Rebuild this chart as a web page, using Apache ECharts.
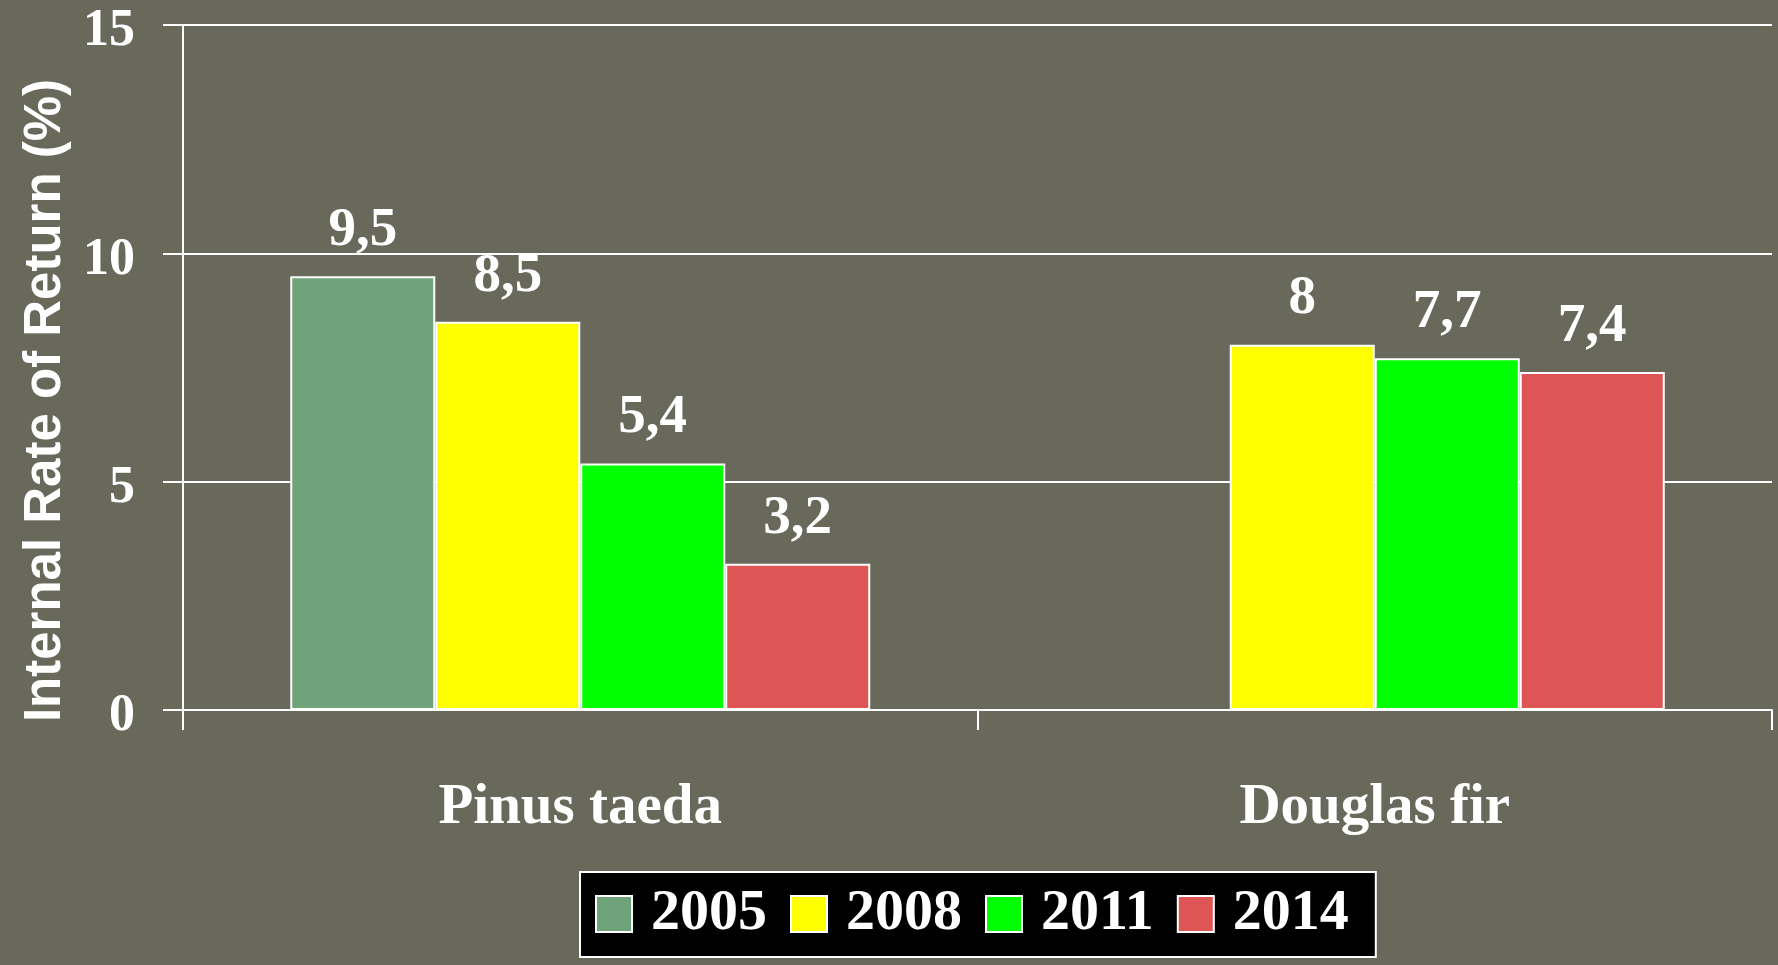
<!DOCTYPE html>
<html>
<head>
<meta charset="utf-8">
<script src="https://cdn.jsdelivr.net/npm/echarts@6/dist/echarts.min.js"></script>
<style>
  html, body { margin: 0; padding: 0; background: #68685a; }
  #main { width: 1778px; height: 965px; }
</style>
</head>
<body>
<div id="main"></div>
<script>
var chart = echarts.init(document.getElementById('main'));

// data
var categories = ['Pinus taeda', 'Douglas fir'];
var years = ['2005', '2008', '2011', '2014'];
var v2005 = [9.5, null];
var v2008 = [8.5, 8];
var v2011 = [5.4, 7.7];
var v2014 = [3.2, 7.4];
var yTicks = [0, 5, 10, 15];

var COLORS = ['#6fa37a', '#ffff00', '#00ff00', '#dd5555'];
var SERIF = '"Liberation Serif", "Times New Roman", serif';
var SANS = '"Liberation Sans", Arial, sans-serif';

function bar(name, vals, i) {
    return {
        name: name,
        type: 'bar',
        data: vals,
        barGap: '0%',
        barCategoryGap: '27%',
        itemStyle: {
            color: COLORS[i],
            borderColor: '#ffffff',
            borderWidth: 2
        },
        label: {
            show: true,
            position: 'top',
            distance: 18,
            color: '#ffffff',
            fontFamily: SERIF,
            fontWeight: 'bold',
            fontSize: 55,
            formatter: function(p) {
                return String(p.value).replace('.', ',');
            }
        }
    };
}

var option = {
    backgroundColor: '#69695b',
    animation: false,
    grid: {
        left: 183,
        right: 6,
        top: 25,
        bottom: 255
    },
    legend: {
        left: 580,
        top: 872,
        data: years,
        selectedMode: false,
        backgroundColor: '#000000',
        borderColor: '#ffffff',
        borderWidth: 2,
        borderRadius: 0,
        padding: [13, 27, 14, 15],
        itemWidth: 36,
        itemHeight: 36,
        itemGap: 23,
        icon: 'rect',
        itemStyle: {
            borderColor: '#ffffff',
            borderWidth: 2
        },
        textStyle: {
            color: '#ffffff',
            fontFamily: SERIF,
            fontWeight: 'bold',
            fontSize: 58,
            padding: [0, 0, 0, 14]
        }
    },
    xAxis: {
        type: 'category',
        data: categories,
        axisLine: { lineStyle: { color: '#ffffff', width: 2 } },
        axisTick: { show: true, length: 20, lineStyle: { color: '#ffffff', width: 2 } },
        axisLabel: {
            color: '#ffffff',
            fontFamily: SERIF,
            fontWeight: 'bold',
            fontSize: 57,
            margin: 70
        }
    },
    yAxis: {
        type: 'value',
        min: yTicks[0],
        max: yTicks[yTicks.length - 1],
        interval: 5,
        name: 'Internal Rate of Return (%)',
        nameLocation: 'middle',
        nameGap: 112,
        nameTextStyle: {
            color: '#ffffff',
            fontFamily: SANS,
            fontWeight: 'bold',
            fontSize: 51,
            padding: [0, 66, 0, 0]
        },
        axisLine: { show: true, lineStyle: { color: '#ffffff', width: 2 } },
        axisTick: { show: true, length: 20, lineStyle: { color: '#ffffff', width: 2 } },
        splitLine: { show: true, lineStyle: { color: '#ffffff', width: 2 } },
        axisLabel: {
            color: '#ffffff',
            fontFamily: SERIF,
            fontWeight: 'bold',
            fontSize: 52,
            margin: 48,
            verticalAlign: 'top',
            lineHeight: 14
        }
    },
    series: [
        bar(years[0], v2005, 0),
        bar(years[1], v2008, 1),
        bar(years[2], v2011, 2),
        bar(years[3], v2014, 3)
    ]
};

chart.setOption(option);
</script>
</body>
</html>
